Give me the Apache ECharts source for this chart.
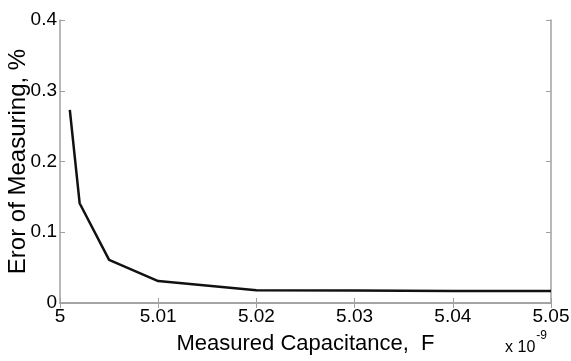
<!DOCTYPE html>
<html><head><meta charset="utf-8">
<script src="https://cdn.jsdelivr.net/npm/echarts@6/dist/echarts.min.js"></script>
<style>html,body{margin:0;padding:0;background:#fff}#c{width:571px;height:361px}</style>
</head><body><div id="c"></div>
<script>
// capacitance in units of 1e-9 F
const capacitance = [5.001, 5.002, 5.005, 5.010, 5.020, 5.030, 5.040, 5.050];
const errorPct    = [0.273, 0.141, 0.061, 0.031, 0.018, 0.0175, 0.017, 0.017];
const xTicks = [5, 5.01, 5.02, 5.03, 5.04, 5.05];
const yTicks = [0, 0.1, 0.2, 0.3, 0.4];

const FONT = '"Liberation Sans", Arial, sans-serif';
const axisCol = '#a0a0a0';
const chart = echarts.init(document.getElementById('c'));
const common = {
  axisLine: {show: true, lineStyle: {color: axisCol, width: 1.5}},
  axisTick: {show: true, inside: true, length: 5, lineStyle: {color: axisCol}},
  splitLine: {show: false}
};
chart.setOption({
  animation: false,
  grid: {left: 60, right: 20, top: 20, bottom: 58, containLabel: false, outerBoundsMode: 'none'},
  xAxis: [
    Object.assign({type: 'value', min: 5, max: 5.05, interval: 0.01,
      name: 'Measured Capacitance,  F', nameLocation: 'middle', nameGap: 30, nameMoveOverlap: false,
      nameTextStyle: {fontFamily: FONT, fontSize: 22, color: '#000'},
      axisLabel: {fontFamily: FONT, fontSize: 19, color: '#000', margin: 4,
        formatter: v => { const t = xTicks.find(x => Math.abs(x - v) < 1e-6); return t === undefined ? '' : String(t); }}
    }, common),
    Object.assign({type: 'value', min: 5, max: 5.05, interval: 0.01, position: 'top',
      axisLabel: {show: false}}, common)
  ],
  yAxis: [
    Object.assign({type: 'value', min: 0, max: 0.4, interval: 0.1,
      name: 'Eror of Measuring, %', nameLocation: 'middle', nameGap: 30, nameMoveOverlap: false,
      nameTextStyle: {fontFamily: FONT, fontSize: 24, color: '#000'},
      axisLabel: {fontFamily: FONT, fontSize: 19, color: '#000', margin: 3,
        formatter: v => { const t = yTicks.find(y => Math.abs(y - v) < 1e-6); return t === undefined ? '' : String(t); }}
    }, common),
    Object.assign({type: 'value', min: 0, max: 0.4, interval: 0.1, position: 'right',
      axisLabel: {show: false}}, common)
  ],
  graphic: [{
    type: 'text', right: 24, top: 330,
    style: {text: '{a|x 10}{b|-9}', rich: {
      a: {fontFamily: FONT, fontSize: 16, fill: '#000', verticalAlign: 'bottom', padding: [10,0,0,0]},
      b: {fontFamily: FONT, fontSize: 12, fill: '#000', verticalAlign: 'top', padding: [0,0,12,1]}
    }}
  }],
  series: [{
    type: 'line', xAxisIndex: 0, yAxisIndex: 0,
    data: capacitance.map((c, i) => [c, errorPct[i]]),
    showSymbol: false, lineStyle: {color: '#111', width: 2.5}
  }]
});
</script></body></html>
